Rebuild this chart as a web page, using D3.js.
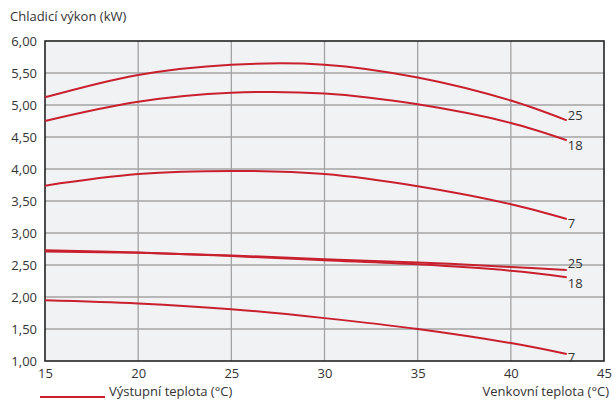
<!DOCTYPE html>
<html>
<head>
<meta charset="utf-8">
<script src="https://cdn.jsdelivr.net/npm/d3@7"></script>
<style>
  body { margin: 0; background: #fff; }
  text { font-family: "Open Sans", sans-serif; fill: #333; }
</style>
</head>
<body>
<div id="chart"></div>
<script>
// Venkovní teplota (°C)
var temps = [15, 20, 25, 30, 35, 40, 43];

// Chladicí výkon (kW) per výstupní teplota
var upper25 = [5.12, 5.47, 5.63, 5.63, 5.43, 5.07, 4.76];
var upper18 = [4.75, 5.05, 5.19, 5.18, 5.01, 4.72, 4.45];
var upper7  = [3.74, 3.92, 3.97, 3.92, 3.73, 3.45, 3.22];
var lower25 = [2.71, 2.69, 2.65, 2.59, 2.54, 2.47, 2.42];
var lower18 = [2.73, 2.695, 2.64, 2.575, 2.51, 2.41, 2.31];
var lower7  = [1.95, 1.90, 1.81, 1.67, 1.50, 1.28, 1.11];

var seriesLabels = ["25", "18", "7", "25", "18", "7"];
var seriesValues = [upper25, upper18, upper7, lower25, lower18, lower7];
var labelOffsets = [-5, 5, 5, -7, 6, 3];

var xTicks = [15, 20, 25, 30, 35, 40, 45];
var yTicks = [1, 1.5, 2, 2.5, 3, 3.5, 4, 4.5, 5, 5.5, 6];

var width = 613, height = 401;
var margin = {left: 45, right: 9, top: 41, bottom: 40};
var w = width - margin.left - margin.right;
var h = height - margin.top - margin.bottom;

var svg = d3.select("#chart").append("svg")
    .attr("width", width)
    .attr("height", height);

var chart = svg.append("g")
    .attr("transform", "translate(" + margin.left + "," + margin.top + ")");

var x = d3.scaleLinear().domain([15, 45]).range([0, w]);
var y = d3.scaleLinear().domain([1, 6]).range([h, 0]);

// plot background
chart.append("rect")
    .attr("width", w)
    .attr("height", h)
    .attr("fill", "#f1f2f4");

// grid
chart.append("g").selectAll("line.v")
    .data(xTicks.slice(1, -1))
    .enter().append("line")
    .attr("x1", function(d) { return x(d); })
    .attr("x2", function(d) { return x(d); })
    .attr("y1", 0).attr("y2", h)
    .attr("stroke", "#a3a3a3").attr("stroke-width", 1.3);

chart.append("g").selectAll("line.h")
    .data(yTicks.slice(1, -1))
    .enter().append("line")
    .attr("y1", function(d) { return y(d); })
    .attr("y2", function(d) { return y(d); })
    .attr("x1", 0).attr("x2", w)
    .attr("stroke", "#a3a3a3").attr("stroke-width", 1.3);

// frame
chart.append("rect")
    .attr("width", w)
    .attr("height", h)
    .attr("fill", "none")
    .attr("stroke", "#222")
    .attr("stroke-width", 1.6);

// axes
var fmt = function(d) { return d3.format(".2f")(d).replace(".", ","); };

var yAxis = chart.append("g")
    .call(d3.axisLeft(y).tickValues(yTicks).tickSize(0).tickPadding(8).tickFormat(fmt));
yAxis.select(".domain").remove();
yAxis.selectAll("text").style("font-size", "13px").attr("fill", "#333");

var xAxis = chart.append("g")
    .attr("transform", "translate(0," + h + ")")
    .call(d3.axisBottom(x).tickValues(xTicks).tickSize(0).tickPadding(8));
xAxis.select(".domain").remove();
xAxis.selectAll("text").style("font-size", "13px").attr("fill", "#333");

// curves
var line = d3.line()
    .x(function(d, i) { return x(temps[i]); })
    .y(function(d) { return y(d); })
    .curve(d3.curveCatmullRom.alpha(0.5));

chart.append("g").selectAll("path")
    .data(seriesValues)
    .enter().append("path")
    .attr("d", line)
    .attr("fill", "none")
    .attr("stroke", "#c8202f")
    .attr("stroke-width", 2);

chart.append("g").selectAll("text")
    .data(seriesValues)
    .enter().append("text")
    .attr("x", x(temps[temps.length - 1]) + 1)
    .attr("y", function(d, i) { return y(d[d.length - 1]) + labelOffsets[i]; })
    .attr("dy", "0.35em")
    .style("font-size", "13px")
    .text(function(d, i) { return seriesLabels[i]; });

// titles and legend
svg.append("text")
    .attr("x", 10).attr("y", 21)
    .style("font-size", "13px")
    .text("Chladicí výkon (kW)");

svg.append("line")
    .attr("x1", 40).attr("x2", 105)
    .attr("y1", 397).attr("y2", 397)
    .attr("stroke", "#c8202f").attr("stroke-width", 2);

svg.append("text")
    .attr("x", 109).attr("y", 391)
    .attr("dy", "0.35em")
    .style("font-size", "13px")
    .text("Výstupní teplota (°C)");

svg.append("text")
    .attr("x", 609).attr("y", 391)
    .attr("dy", "0.35em")
    .attr("text-anchor", "end")
    .style("font-size", "13px")
    .text("Venkovní teplota (°C)");
</script>
</body>
</html>
